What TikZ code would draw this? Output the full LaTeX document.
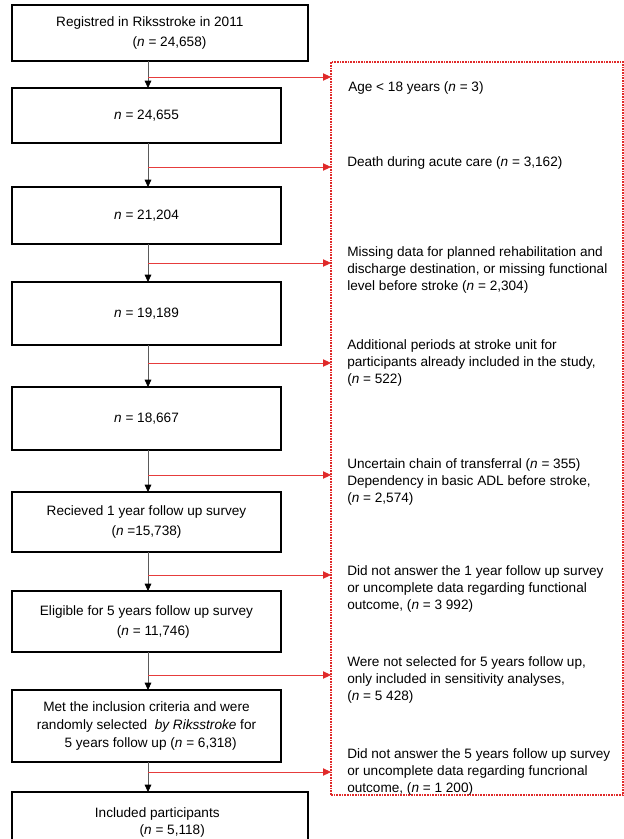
\documentclass[tikz,border=0pt]{standalone}
\usepackage{fontspec}
\setmainfont{Liberation Sans}
\usepackage{xcolor}
\usepackage{tikz}
\usetikzlibrary{arrows.meta,positioning}
\definecolor{exred}{HTML}{E02A2A}
\definecolor{exline}{HTML}{E63C3C}
\definecolor{spinegray}{HTML}{5A5A5A}
\newcommand{\nn}{\textit{n}}

\begin{document}
\begin{tikzpicture}[
  x=0.75pt, y=-0.75pt,
  every node/.style={font=\fontsize{10.2}{15}\selectfont},
  box/.style={draw=black, line width=0.8pt, align=center, inner sep=0pt, outer sep=0pt, minimum width=201.75pt, minimum height=45pt},
  wide/.style={minimum width=222pt},
  note/.style={anchor=west, align=left, inner sep=0pt, font=\fontsize{10.2}{12.75}\selectfont},
  exbox/.style={draw=exred, line width=0.9pt, dash pattern=on 1.2pt off 0.8pt, inner sep=0pt, outer sep=0pt, minimum width=219pt, minimum height=549.75pt, anchor=north west},
  arrow/.style={-{Triangle[length=5.5pt,width=5pt,color=black]}, line width=0.5pt, draw=spinegray},
  excl/.style={-{Triangle[length=6pt,width=5.5pt,color=exred]}, line width=0.7pt, draw=exline}
]
\useasboundingbox (0,0) rectangle (624,839);
\coordinate (spine) at (148,0);

% main flow
\node[box, wide, minimum height=42pt, anchor=north west] (b1) at (12,5) {Registred in Riksstroke in 2011\hspace*{1.5em}\\\hspace*{1.4em}(\nn{} = 24,658)};
\node[box, minimum height=41.25pt, below=20.25pt of b1.south west, anchor=north west] (b2) {\nn{} = 24,655};
\node[box, minimum height=42.75pt, below=33pt of b2.south west, anchor=north west] (b3) {\nn{} = 21,204};
\node[box, minimum height=47.25pt, below=28.5pt of b3.south west, anchor=north west] (b4) {\nn{} = 19,189};
\node[box, minimum height=47.25pt, below=31.5pt of b4.south west, anchor=north west] (b5) {\nn{} = 18,667};
\node[box, minimum height=45pt, below=31.5pt of b5.south west, anchor=north west] (b6) {Recieved 1 year follow up survey\\(\nn{} =15,738)};
\node[box, minimum height=45.75pt, below=29.25pt of b6.south west, anchor=north west] (b7) {Eligible for 5 years follow up survey\\\hspace*{1em}(\nn{} = 11,746)};
\node[box, minimum height=54pt, below=28.5pt of b7.south west, anchor=north west, font=\fontsize{10.2}{13.5}\selectfont] (b8) {Met the inclusion criteria and were\\randomly selected \ \textit{by Riksstroke} for\\\hspace*{0.6em}5 years follow up (\nn{} = 6,318)};
\node[box, wide, minimum height=45pt, below=22.5pt of b8.south west, anchor=north west, font=\fontsize{10.2}{12.75}\selectfont] (b9) {Included participants\hspace*{0.4em}\\\hspace*{1.8em}(\nn{} = 5,118)};

\draw[arrow] (b1.south -| spine) -- (b2.north -| spine);
\draw[arrow] (b2.south -| spine) -- (b3.north -| spine);
\draw[arrow] (b3.south -| spine) -- (b4.north -| spine);
\draw[arrow] (b4.south -| spine) -- (b5.north -| spine);
\draw[arrow] (b5.south -| spine) -- (b6.north -| spine);
\draw[arrow] (b6.south -| spine) -- (b7.north -| spine);
\draw[arrow] (b7.south -| spine) -- (b8.north -| spine);
\draw[arrow] (b8.south -| spine) -- (b9.north -| spine);

% exclusions
\node[exbox] (ex) at (331,62) {};
\node[note] (n1) at (348,88) {Age < 18 years (\nn{} = 3)};
\node[note] (n2) at (347,163) {Death during acute care (\nn{} = 3,162)};
\node[note] (n3) at (347,270) {Missing data for planned rehabilitation and\\discharge destination, or missing functional\\level before stroke (\nn{} = 2,304)};
\node[note] (n4) at (347,363) {Additional periods at stroke unit for\\participants already included in the study,\\(\nn{} = 522)};
\node[note] (n5) at (347,482) {Uncertain chain of transferral (\nn{} = 355)\\Dependency in basic ADL before stroke,\\(\nn{} = 2,574)};
\node[note] (n6) at (347,589) {Did not answer the 1 year follow up survey\\or uncomplete data regarding functional\\outcome, (\nn{} = 3 992)};
\node[note] (n7) at (347,680) {Were not selected for 5 years follow up,\\only included in sensitivity analyses,\\(\nn{} = 5 428)};
\node[note] (n8) at (347,772) {Did not answer the 5 years follow up survey\\or uncomplete data regarding funcrional\\outcome, (\nn{} = 1 200)};

\coordinate (s1) at (148,77);
\coordinate (s2) at (148,167);
\coordinate (s3) at (148,263);
\coordinate (s4) at (148,363);
\coordinate (s5) at (148,475);
\coordinate (s6) at (148,575);
\coordinate (s7) at (148,675);
\coordinate (s8) at (148,772);
\draw[excl] (s1) -- (s1 -| ex.west);
\draw[excl] (s2) -- (s2 -| ex.west);
\draw[excl] (s3) -- (s3 -| ex.west);
\draw[excl] (s4) -- (s4 -| ex.west);
\draw[excl] (s5) -- (s5 -| ex.west);
\draw[excl] (s6) -- (s6 -| ex.west);
\draw[excl] (s7) -- (s7 -| ex.west);
\draw[excl] (s8) -- (s8 -| ex.west);
\end{tikzpicture}
\end{document}
